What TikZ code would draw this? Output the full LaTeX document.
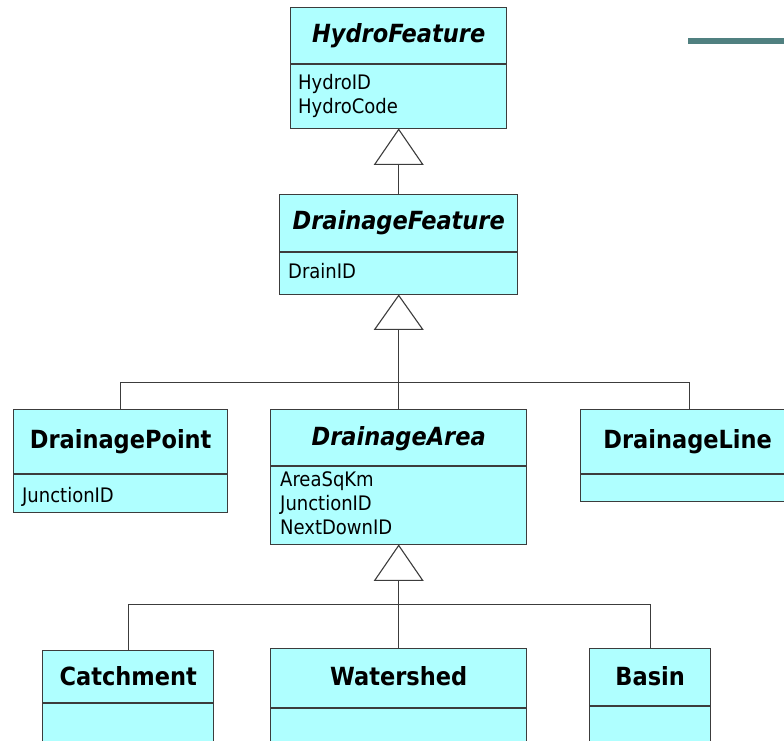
\documentclass[tikz,border=0pt]{standalone}
\usepackage{fontspec}
\usetikzlibrary{calc}
\newfontfamily\umlfont{DejaVu Sans Condensed}
\definecolor{clsfill}{RGB}{175,255,255}
\definecolor{clsline}{RGB}{60,60,60}
\definecolor{barcol}{RGB}{80,128,128}
\tikzset{
  clsbox/.style={draw=clsline,line width=1.4pt,fill=clsfill,rectangle,anchor=north west,inner sep=0pt},
  clssep/.style={draw=clsline,line width=1.4pt},
  clstitle/.style={font=\umlfont\bfseries\fontsize{25}{30}\selectfont,inner sep=0pt},
  clsattr/.style={font=\umlfont\fontsize{20}{24}\selectfont,align=left,anchor=north west,inner sep=0pt},
  genline/.style={draw=clsline,line width=1.1pt},
  gentri/.style={genline,fill=white,line join=miter}
}
\begin{document}
\begin{tikzpicture}[x=1pt,y=-1pt]
        \useasboundingbox (0,0) rectangle (784,740);
        \clip (0,0) rectangle (784,740);
        % top bar
        \draw[barcol,line width=6pt] (688,41) -- (784,41);
        % classes
        \node[clsbox,minimum width=216,minimum height=121] (hydro) at (290,7) {};
        \draw[clssep] ($(hydro.north west)+(0,57)$) -- ($(hydro.north east)+(0,57)$);
        \node[clstitle] (hydrotitle) at ($(hydro.north)+(0,28.5)$) {\itshape HydroFeature};
        \node[clsattr] (hydroattr) at ($(hydro.north west)+(8,67)$) {HydroID\\HydroCode};

        \node[clsbox,minimum width=238,minimum height=100] (drain) at (279,194) {};
        \draw[clssep] ($(drain.north west)+(0,58)$) -- ($(drain.north east)+(0,58)$);
        \node[clstitle] (draintitle) at ($(drain.north)+(0,29)$) {\itshape DrainageFeature};
        \node[clsattr] (drainattr) at ($(drain.north west)+(9,69)$) {DrainID};

        \node[clsbox,minimum width=214,minimum height=103] (dpoint) at (13,409) {};
        \draw[clssep] ($(dpoint.north west)+(0,65)$) -- ($(dpoint.north east)+(0,65)$);
        \node[clstitle] (dpointtitle) at ($(dpoint.north)+(0,32.5)$) {DrainagePoint};
        \node[clsattr] (dpointattr) at ($(dpoint.north west)+(9,78)$) {JunctionID};

        \node[clsbox,minimum width=256,minimum height=135] (darea) at (270,409) {};
        \draw[clssep] ($(darea.north west)+(0,57)$) -- ($(darea.north east)+(0,57)$);
        \node[clstitle] (dareatitle) at ($(darea.north)+(0,30)$) {\itshape DrainageArea};
        \node[clsattr] (dareaattr) at ($(darea.north west)+(10,62)$) {AreaSqKm\\JunctionID\\NextDownID};

        \node[clsbox,minimum width=218,minimum height=92] (dline) at (580,409) {};
        \draw[clssep] ($(dline.north west)+(0,65)$) -- ($(dline.north east)+(0,65)$);
        \node[clstitle] (dlinetitle) at ($(dline.north)+(-2,32.5)$) {DrainageLine};

        \node[clsbox,minimum width=171,minimum height=110] (catch) at (42,650) {};
        \draw[clssep] ($(catch.north west)+(0,53)$) -- ($(catch.north east)+(0,53)$);
        \node[clstitle] (catchtitle) at ($(catch.north)+(0,26)$) {Catchment};

        \node[clsbox,minimum width=256,minimum height=112] (wshed) at (270,648) {};
        \draw[clssep] ($(wshed.north west)+(0,60)$) -- ($(wshed.north east)+(0,60)$);
        \node[clstitle] (wshedtitle) at ($(wshed.north)+(0,28)$) {Watershed};

        \node[clsbox,minimum width=121,minimum height=112] (basin) at (589,648) {};
        \draw[clssep] ($(basin.north west)+(0,58)$) -- ($(basin.north east)+(0,58)$);
        \node[clstitle] (basintitle) at ($(basin.north)+(0,28)$) {Basin};

        % generalisations
        \coordinate (hydrotri) at ($(hydro.south)+(0,35)$);
        \draw[gentri] (hydro.south) -- ++(-24,35) -- ++(48,0) -- cycle;
        \draw[genline] (hydrotri) -- (drain.north);

        \coordinate (draintri) at ($(drain.south)+(0,34)$);
        \coordinate (drainjoin) at ($(drain.south)+(0,87)$);
        \draw[gentri] (drain.south) -- ++(-24,34) -- ++(48,0) -- cycle;
        \draw[genline] (draintri) -- (darea.north);
        \draw[genline] (dpoint.north) |- (drainjoin) -| (dline.north);

        \coordinate (dareatri) at ($(darea.south)+(0,35)$);
        \coordinate (dareajoin) at ($(darea.south)+(0,59)$);
        \draw[gentri] (darea.south) -- ++(-24,35) -- ++(48,0) -- cycle;
        \draw[genline] (dareatri) -- (wshed.north);
        \draw[genline] (catch.north) |- (dareajoin) -| (basin.north);
\end{tikzpicture}
\end{document}
